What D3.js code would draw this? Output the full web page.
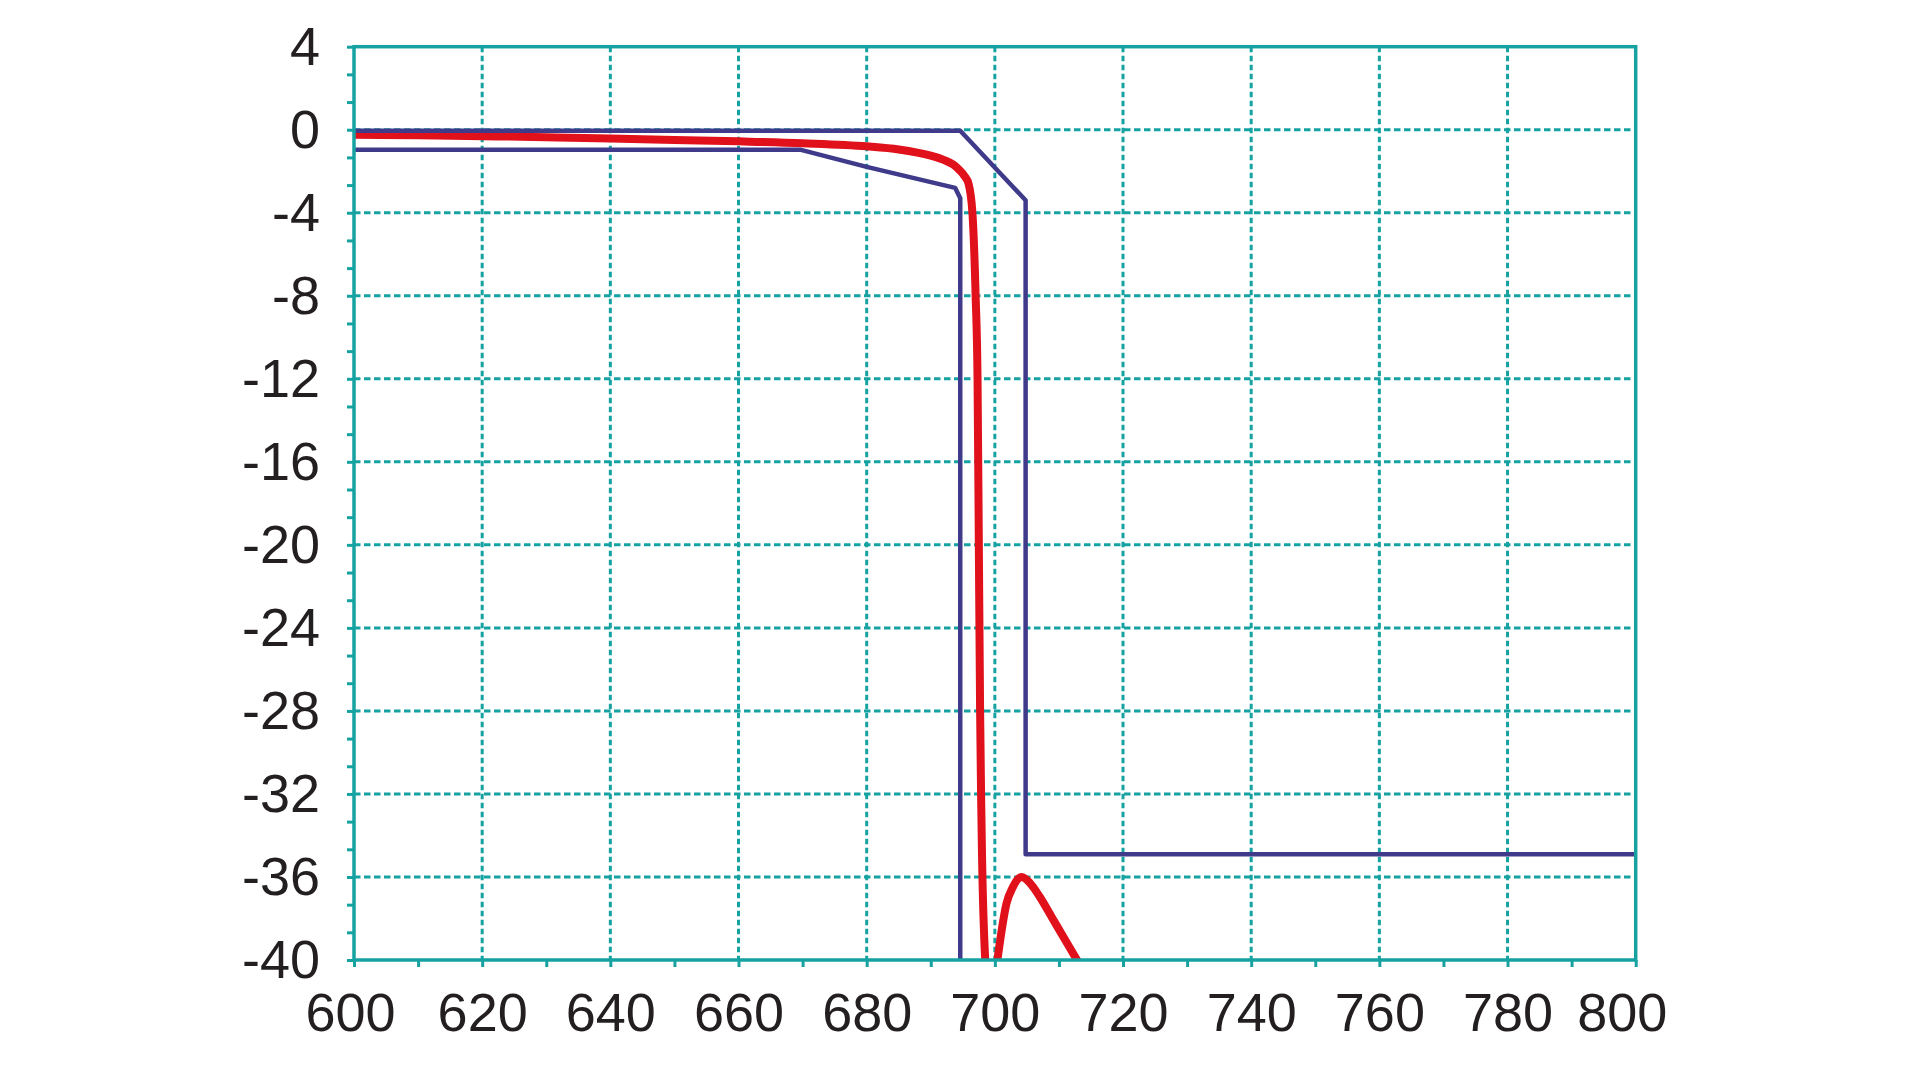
<!DOCTYPE html>
<html>
<head>
<meta charset="utf-8">
<script src="https://cdn.jsdelivr.net/npm/d3@7"></script>
<style>
  html, body { margin: 0; padding: 0; background: #fff; }
  svg text { font-family: "Liberation Sans", Arial, sans-serif; fill: #231f20; }
</style>
</head>
<body>
<div class="chart"></div>
<script>
// x = wavelength, y = dB
var xTicks = [600, 620, 640, 660, 680, 700, 720, 740, 760, 780, 800];
var yTicks = [-40, -36, -32, -28, -24, -20, -16, -12, -8, -4, 0, 4];

var redX  = [600, 610, 620, 630, 640, 650, 660, 670, 680, 685, 690, 692, 693.5, 694.5, 695.3, 695.9, 696.5, 697.0, 697.3, 697.5, 697.7, 697.85, 698.0, 698.5];
var redDb = [-0.24, -0.27, -0.31, -0.36, -0.42, -0.49, -0.56, -0.65, -0.8, -0.95, -1.25, -1.45, -1.68, -1.95, -2.25, -2.6, -4, -8, -12, -20, -28, -32, -35, -40];

// red side lobe after the edge
var lobeX  = [700.4, 701, 701.8, 702.8, 703.6, 704.2, 705.5, 707, 709, 711, 713.2];
var lobeDb = [-40, -38.7, -37.3, -36.5, -36.1, -36.0, -36.3, -36.95, -38.0, -39.05, -40.2];

var upperX  = [600, 694.6, 704.8, 704.8, 800];
var upperDb = [-0.05, -0.05, -3.4, -34.9, -34.9];

var lowerX  = [600, 669.6, 680, 693.8, 694.6, 694.6];
var lowerDb = [-0.96, -0.96, -1.79, -2.8, -3.3, -40];

var teal = '#17a2a2';
var blue = '#3f3a8a';
var red = '#e1111c';

var width = 1920, height = 1080;
// window.top is read-only, so plotTop etc.
var plotLeft = 354, plotRight = 1635.7, plotTop = 46.7, plotBottom = 960;

var svg = d3.select('.chart')
  .append('svg')
  .attr('width', width)
  .attr('height', height);

var x = d3.scaleLinear().domain([600, 800]).range([plotLeft, plotRight]);
var y = d3.scaleLinear().domain([-40, 4]).range([plotBottom, plotTop]);

svg.append('clipPath').attr('id', 'plot')
  .append('rect')
  .attr('x', plotLeft).attr('y', plotTop)
  .attr('width', plotRight - plotLeft).attr('height', plotBottom - plotTop);

// dashed grid
var grid = svg.append('g');
grid.selectAll('.hgrid')
  .data(yTicks.filter(function(d) { return d > -40 && d < 4; }))
  .enter().append('line')
  .attr('x1', plotLeft).attr('x2', plotRight - 4)
  .attr('y1', function(d) { return y(d); })
  .attr('y2', function(d) { return y(d); })
  .attr('stroke', teal).attr('stroke-width', 3)
  .attr('stroke-dasharray', '6.5,3.5');

grid.selectAll('.vgrid')
  .data(xTicks.filter(function(d) { return d > 600 && d < 800; }))
  .enter().append('line')
  .attr('x1', function(d) { return x(d); })
  .attr('x2', function(d) { return x(d); })
  .attr('y1', plotTop).attr('y2', plotBottom)
  .attr('stroke', teal).attr('stroke-width', 3)
  .attr('stroke-dasharray', '5.5,3.5');

// curves
var line = d3.line()
  .x(function(d) { return x(d[0]); })
  .y(function(d) { return y(d[1]); });

var smooth = d3.line()
  .curve(d3.curveMonotoneX)
  .x(function(d) { return x(d[0]); })
  .y(function(d) { return y(d[1]); });

function pairs(xs, ys) {
  return xs.map(function(v, i) { return [v, ys[i]]; });
}

var curves = svg.append('g').attr('clip-path', 'url(#plot)');

[[redX, redDb], [lobeX, lobeDb]].forEach(function(s) {
  curves.append('path')
    .attr('d', smooth(pairs(s[0], s[1])))
    .attr('fill', 'none')
    .attr('stroke', red)
    .attr('stroke-width', 8)
    .attr('stroke-linejoin', 'round');
});

[[upperX, upperDb], [lowerX, lowerDb]].forEach(function(s) {
  curves.append('path')
    .attr('d', line(pairs(s[0], s[1])))
    .attr('fill', 'none')
    .attr('stroke', blue)
    .attr('stroke-width', 4.5)
    .attr('stroke-linejoin', 'round');
});

// frame
svg.append('rect')
  .attr('x', plotLeft).attr('y', plotTop)
  .attr('width', plotRight - plotLeft).attr('height', plotBottom - plotTop)
  .attr('fill', 'none')
  .attr('stroke', teal)
  .attr('stroke-width', 3.5);

// axes: minor ticks every 10 on x, every 4/3 on y
var xAxis = d3.axisBottom(x)
  .tickValues(d3.range(600, 801, 10))
  .tickSize(7)
  .tickSizeOuter(0)
  .tickPadding(26)
  .tickFormat(function(d) { return d % 20 === 0 ? d : ''; });

var gx = svg.append('g')
  .attr('transform', 'translate(0,' + plotBottom + ')')
  .call(xAxis);
gx.select('.domain').remove();
gx.selectAll('line').attr('stroke', teal).attr('stroke-width', 3);
gx.selectAll('text')
  .style('font-size', '54px')
  .attr('fill', '#231f20')
  .attr('dx', function(d) { return d === 800 ? -14 : (d === 600 ? -4 : 0); });

var yMinor = d3.range(0, 34).map(function(i) { return -40 + i * 4 / 3; });

var yAxis = d3.axisLeft(y)
  .tickValues(yMinor)
  .tickSize(7)
  .tickSizeOuter(0)
  .tickPadding(27)
  .tickFormat(function(d, i) { return i % 3 === 0 ? Math.round(d) : ''; });

var gy = svg.append('g')
  .attr('transform', 'translate(' + plotLeft + ',0)')
  .call(yAxis);
gy.select('.domain').remove();
gy.selectAll('line').attr('stroke', teal).attr('stroke-width', 3);
gy.selectAll('text')
  .style('font-size', '54px')
  .attr('fill', '#231f20')
  .attr('dy', '0.33em');
</script>
</body>
</html>
